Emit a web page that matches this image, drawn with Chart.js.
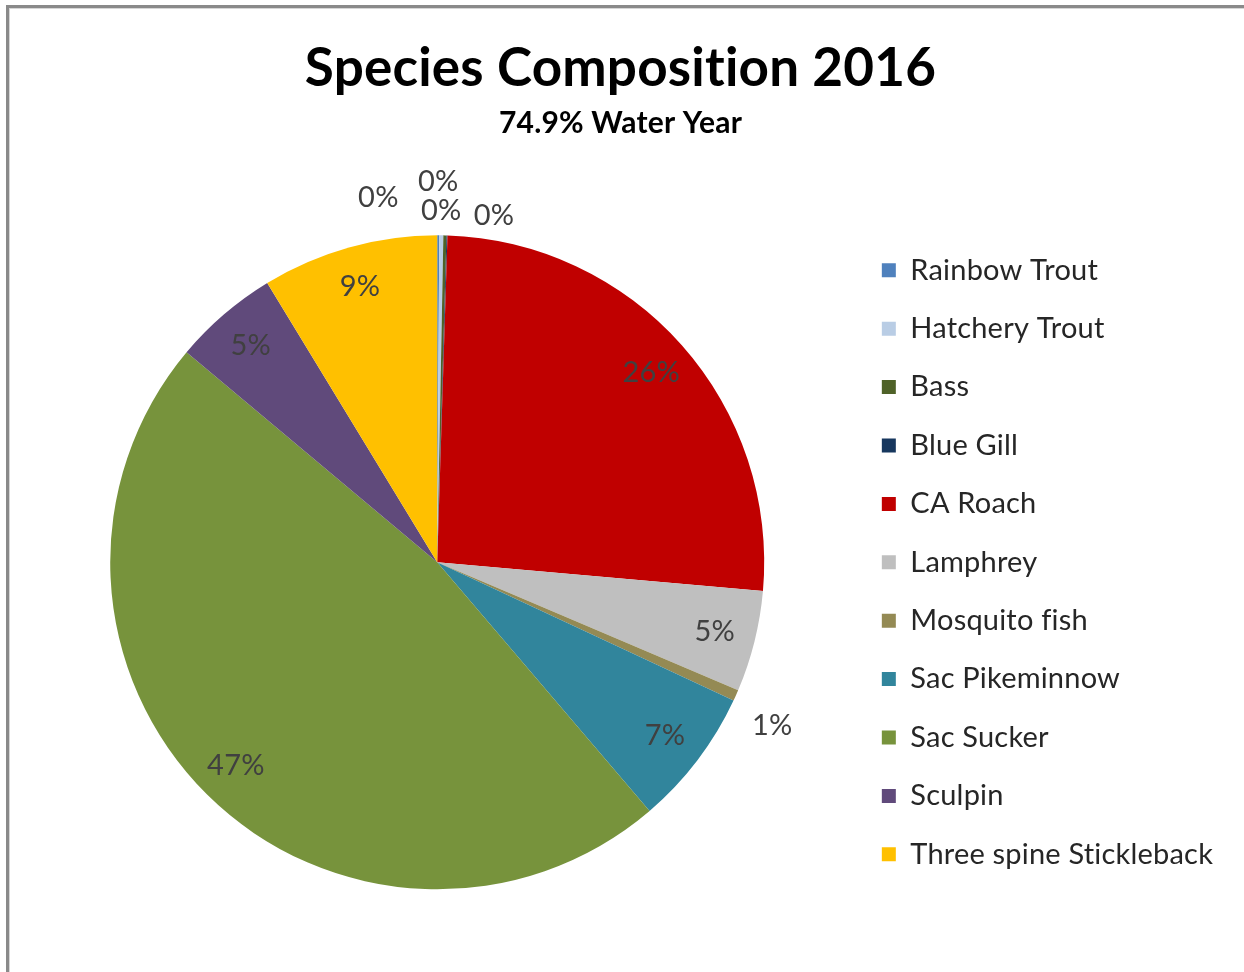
<!DOCTYPE html>
<html>
<head>
<meta charset="utf-8">
<title>Species Composition 2016</title>
<script src="https://cdn.jsdelivr.net/npm/chart.js@4.4.1/dist/chart.umd.min.js"></script>
<style>
  html, body { margin: 0; padding: 0; background: #fff; }
  #frame {
    position: absolute; left: 6px; top: 5px; width: 1244px; height: 972px;
    border-left: 3px solid #8a8a8a; border-top: 3px solid #8a8a8a; box-sizing: border-box;
  }
  #frame::after {
    content: ''; position: absolute; left: 0; top: 0; right: 0; bottom: 0;
    border-left: 1px solid #d6d6d6; border-top: 1px solid #d6d6d6;
  }
  #wrap { position: absolute; left: 0; top: 0; width: 1244px; height: 972px; }
</style>
</head>
<body>
<div id="frame"></div>
<div id="wrap"><canvas id="chart" width="1244" height="972"></canvas></div>
<script>
// Catch composition by species, percent of all fish
const species = [
  'Rainbow Trout', 'Hatchery Trout', 'Bass', 'Blue Gill', 'CA Roach', 'Lamphrey',
  'Mosquito fish', 'Sac Pikeminnow', 'Sac Sucker', 'Sculpin', 'Three spine Stickleback'
];
const sharePct = [0.1, 0.2, 0.15, 0.05, 25.9, 5.0, 0.55, 6.8, 47.35, 5.2, 8.7];
const sliceColors = [
  '#4F81BD', '#B9CDE5', '#4F6228', '#17375E', '#C00000', '#BFBFBF',
  '#948A54', '#31859C', '#77933C', '#604A7B', '#FFC000'
];

// Slight tracking keeps glyphs separate (no "fi"/"ti" ligatures)
const plainGlyphs = {
  id: 'plainGlyphs',
  beforeDraw(chart) {
    if ('letterSpacing' in chart.ctx) chart.ctx.letterSpacing = '0.2px';
  }
};

// Percent labels: inside the slice for large shares, outside for small ones
const sliceLabels = {
  id: 'sliceLabels',
  afterDatasetsDraw(chart, args, opts) {
    const { ctx } = chart;
    const meta = chart.getDatasetMeta(0);
    const values = chart.data.datasets[0].data;
    const total = values.reduce((a, b) => a + b, 0);
    ctx.save();
    ctx.font = opts.font;
    ctx.fillStyle = opts.color;
    ctx.textAlign = 'center';
    ctx.textBaseline = 'middle';
    meta.data.forEach((arc, i) => {
      const p = arc.getProps(['x', 'y', 'startAngle', 'endAngle', 'outerRadius'], true);
      const mid = (p.startAngle + p.endAngle) / 2;
      const pct = values[i] / total * 100;
      const outside = pct < opts.insideMin;
      const r = outside ? p.outerRadius + opts.outsideGap : p.outerRadius * opts.insideRatio;
      const nudge = opts.nudges[i] || [0, 0];
      ctx.fillText(Math.round(pct) + '%',
        p.x + Math.cos(mid) * r + nudge[0],
        p.y + Math.sin(mid) * r + nudge[1]);
    });
    ctx.restore();
  }
};

new Chart(document.getElementById('chart'), {
  type: 'pie',
  data: {
    labels: species,
    datasets: [{
      data: sharePct,
      backgroundColor: sliceColors,
      borderWidth: 0,
      radius: 327
    }]
  },
  options: {
    responsive: false,
    animation: false,
    devicePixelRatio: 1,
    layout: { padding: { left: 22, right: 25, top: 0, bottom: 0 } },
    plugins: {
      title: {
        display: true,
        text: 'Species Composition 2016',
        color: '#000',
        font: { family: 'Lato', size: 53, weight: 'bold' },
        padding: { top: 37, bottom: 0 }
      },
      subtitle: {
        display: true,
        text: '74.9% Water Year',
        color: '#000',
        font: { family: 'Lato', size: 30, weight: 'bold' },
        padding: { top: 5, bottom: 11 }
      },
      legend: {
        position: 'right',
        align: 'center',
        fullSize: false,
        labels: {
          boxWidth: 14,
          boxHeight: 14,
          padding: 29.4,
          color: '#262626',
          font: { family: 'Lato', size: 29 }
        }
      },
      tooltip: { enabled: false },
      sliceLabels: {
        font: '29px Lato',
        color: '#404040',
        insideMin: 2,
        insideRatio: 0.875,
        outsideGap: 30,
        nudges: { 0: [-60, -7.5], 1: [-3.5, -23.5], 2: [-4.4, 5.5], 3: [46, 10.5], 6: [9, 18] }
      }
    }
  },
  plugins: [plainGlyphs, sliceLabels]
});
</script>
</body>
</html>
